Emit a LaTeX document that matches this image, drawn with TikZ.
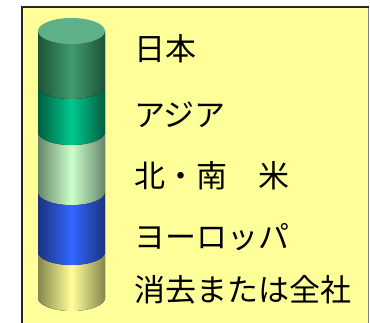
\documentclass[tikz,border=0pt]{standalone}
\usepackage{fontspec}
\newfontfamily\cjk{Noto Sans CJK JP}
\definecolor{paper}{HTML}{FFFF99}
\definecolor{dgE}{HTML}{1C5436}
\definecolor{dgC}{HTML}{3F9B6E}
\definecolor{dgT}{HTML}{5DB088}
\definecolor{mgE}{HTML}{005E40}
\definecolor{mgC}{HTML}{00C890}
\definecolor{lgE}{HTML}{66866A}
\definecolor{lgC}{HTML}{CCFFCC}
\definecolor{blE}{HTML}{1A3380}
\definecolor{blC}{HTML}{3366FF}
\definecolor{ylE}{HTML}{86864E}
\definecolor{ylC}{HTML}{FFFF99}
\tikzset{
  lbl/.style={anchor=west, inner sep=0pt, font=\cjk\fontsize{31}{31}\selectfont},
}
\newcommand{\band}[4]{% top y, bottom y, edge col, center col
  \fill[left color=#3, right color=#3, middle color=#4]
    (38,#1) -- (38,#2) arc[start angle=180, end angle=360, x radius=33.5pt, y radius=13pt] -- (105,#1) -- cycle;}
\begin{document}
\begin{tikzpicture}[x=1pt,y=1pt]
\useasboundingbox (0,0) rectangle (370,322);
\fill[white] (0,0) rectangle (370,322);
\fill[paper] (22,315) rectangle (368,-8);
\draw[gray, line width=1pt] (368,315) -- (368,-8);
\draw[black!85, line width=1.8pt] (22,-8) -- (22,315) -- (368.5,315);
% cylinder bands, bottom to top
\band{70}{24}{ylE}{ylC}
\band{130}{70}{blE}{blC}
\band{190}{130}{lgE}{lgC}
\band{236}{190}{mgE}{mgC}
\band{291}{236}{dgE}{dgC}
\fill[dgT] (71.5,291) ellipse[x radius=33.5pt, y radius=13pt];
\coordinate (cyl) at (71.5,160);
% labels
\node[lbl] (jp) at (134,273) {日本};
\node[lbl] (as) at (134,207) {アジア};
\node[lbl] (am) at (134,146) {北・南　米};
\node[lbl] (eu) at (134,85) {ヨーロッパ};
\node[lbl] (al) at (134,32) {消去または全社};
\end{tikzpicture}
\end{document}
